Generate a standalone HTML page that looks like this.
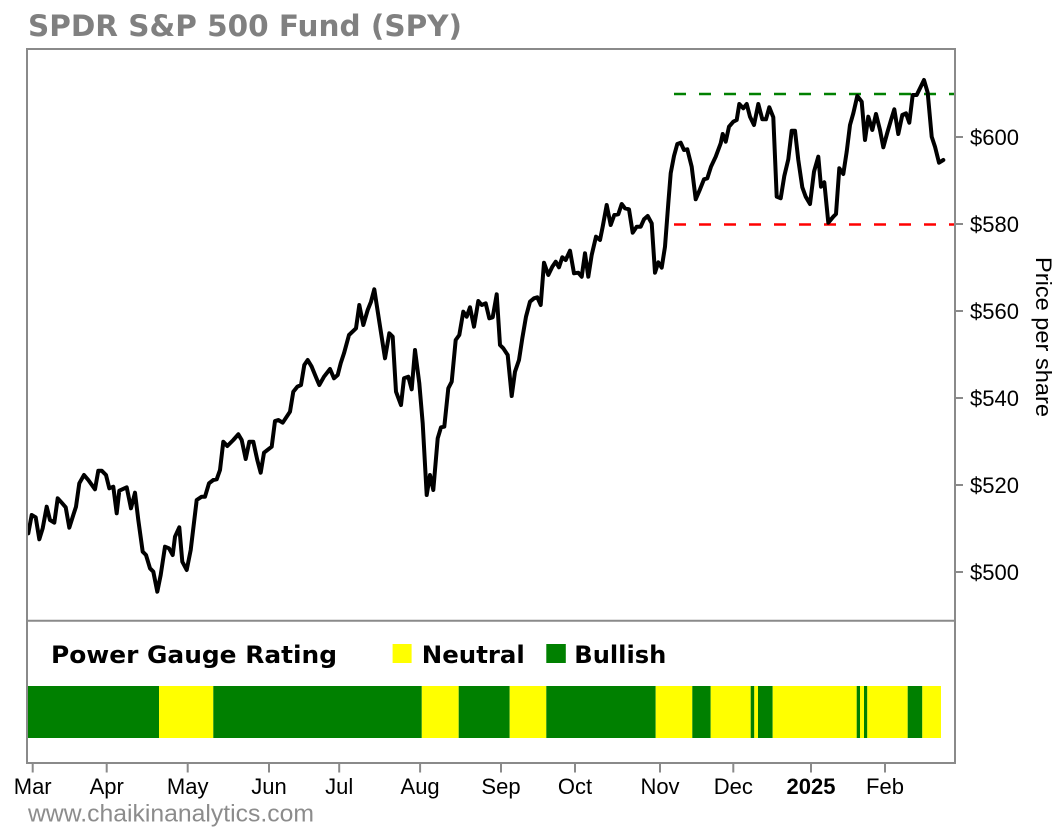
<!DOCTYPE html>
<html>
<head>
<meta charset="utf-8">
<style>
  html, body { margin:0; padding:0; background:#ffffff; }
  body { width:1064px; height:833px; overflow:hidden; }
  svg { display:block; }
  .ax { font-family:"Liberation Sans", Arial, sans-serif; font-size:22px; fill:#000; }
  .bold { font-family:"DejaVu Sans", "Liberation Sans", sans-serif; font-weight:bold; }
</style>
</head>
<body>
<svg width="1064" height="833" viewBox="0 0 1064 833" xmlns="http://www.w3.org/2000/svg">
  <rect x="0" y="0" width="1064" height="833" fill="#ffffff"/>

  <!-- Title -->
  <text x="28" y="36" class="bold" font-size="29" fill="#808080" textLength="434" lengthAdjust="spacingAndGlyphs">SPDR S&amp;P 500 Fund (SPY)</text>

  <!-- Dashed reference lines -->
  <line x1="674" y1="94" x2="955" y2="94" stroke="#008000" stroke-width="2.5" stroke-dasharray="12,13"/>
  <line x1="674" y1="224.5" x2="955" y2="224.5" stroke="#ff0000" stroke-width="2.5" stroke-dasharray="12,13"/>

  <!-- Price line -->
  <polyline fill="none" stroke="#000" stroke-width="4" stroke-linejoin="round" stroke-linecap="round" points="
28.3,533.3 31.7,515 35.7,517.3 39.3,539.3 42.7,528.3 46.7,506.7 50,520 54.3,522.7 57.7,498.3 61.7,502.7 65.7,507.3 69.3,527.7 73.3,515 76,506.7 79.3,483.3 84,475 88.3,480 95,489.3 98.3,470.7 101.7,470.7 106,475 109.3,488.3 113.3,486.7 116.7,513.3 119.3,490.7 126.7,487.3 131,508.3 135,492.7 138.3,520 142.7,551.7 146,555 150,568.3 153.3,571.7 157.3,591.7 160.7,575 165,546.7 169,548.3 172.7,555 175,536.7 179.3,527.3 182.3,561.7 186.7,570 190.7,550 196.7,500 201.7,496.7 205,496.7 209,483.3 213.3,480 216.7,479.3 220,470
223.3,441.7 227.3,446 233.3,440 238.3,434.3 241.7,440 245.7,459 249.3,441.7 253.3,441.7 257.3,460 260.7,472.7 264,452.7 268.3,449.3 271.7,446.7 275,421 278.3,420 282.7,422.7 286.7,416.7 290,411.7 293.3,391.7 297.3,386.7 301,385 304.3,365 307.7,360 311.7,366.7 316,377.3 319.3,385 324,376.7 330,369 334,378.3 337.7,375 340.7,363.3 344,353.3 349,335 356,328.3 359.3,305 363.3,325 367.7,310 371,301.7 374.3,289.3 379.3,321.7 385,358.3 389.3,333.3 392.7,336.7 396,391.7
401,405 404,378.3 408.3,376.7 411.7,389.3 415,350 419.3,383.3 422.7,423.3 426.7,495 430,475 433.3,490 437.7,438.3 441,427.3 444.3,426.7 448.3,388.3 451.7,381.7 455.7,340 459.3,335 463.3,311.7 466.7,316.7 470,307.3 474,326.7 478.3,301 481.7,305 485.7,303.3 489.3,318.3 492.7,317.3 496.7,294.3 500,345 503.3,348.3 507.7,355 511.7,396 515,371.7 519,360 522.3,338.3 526,316.7 530,301.7 534,298.3 537.3,297.3 540.7,305 544,262.7 548.3,275 552.3,266.7 555.7,261.7 559,267.3 562.3,257.3 565.7,260 570,250.7
574,273.3 578.3,272.7 581.7,276.7 585,253.3 588.3,276.7 591.7,255 596,236.7 600,240 602.7,226.7 606.7,205 610.7,225 614.3,215 618.3,214.3 621.7,204 625,208.3 629,209.3 632.7,232.7 636.7,226.7 640.7,226.7 644,219.3 647.7,216 651.7,223.3 655,272.7 658.3,262.3 661.7,267.7 665,246.7 668.3,203.3 670.7,173.3 674,156 677.3,144 680.7,142.7 684,150 687.3,149.3 691.7,166.7 695.7,199.3 700,189.3 704,179.3 707.3,178.3 711,166.7 715.7,156.7 720.7,143.3 722.7,134 725.7,141.7 729,126.7 733.3,121.7 736.7,120 739.3,104 743.3,108.3 746.7,104
750,116.7 754,125 758.3,104 762.3,119.3 766,119.3 769.3,107.3 773.3,117.3 776.7,196.7 780.7,198.3 784.3,176 788.3,159.3 791.7,130.7 795,130.7 798.3,160 802.3,187.3 805.7,196.7 810,204 814,171.7 818.3,156.7 821,186.7 824.3,182.3 828.3,222.7 833.3,216.7 836,214 839.3,168.3 843.3,174 846.7,151.7 850,125 853.3,113.3 857.3,96 861.7,101.7 865,140 868.3,116.7 872.3,130 876,114 880,130 883.3,147.3 887.3,132.7 891,120 894.3,109.3 898.3,134 902.3,115 906,113.3 909.3,122.7 912.7,95 916.7,95 920,88.3 924,80 927.7,92.7 931.7,136.7 935,146.7 939,162.7 943.3,160"/>

  <!-- Power gauge bar -->
  <g>
    <rect x="28" y="686" width="131" height="52" fill="#008000"/>
    <rect x="159" y="686" width="54.3" height="52" fill="#ffff00"/>
    <rect x="213.3" y="686" width="208.5" height="52" fill="#008000"/>
    <rect x="421.8" y="686" width="36.9" height="52" fill="#ffff00"/>
    <rect x="458.7" y="686" width="51" height="52" fill="#008000"/>
    <rect x="509.7" y="686" width="36.6" height="52" fill="#ffff00"/>
    <rect x="546.3" y="686" width="109.4" height="52" fill="#008000"/>
    <rect x="655.7" y="686" width="36.6" height="52" fill="#ffff00"/>
    <rect x="692.3" y="686" width="18.4" height="52" fill="#008000"/>
    <rect x="710.7" y="686" width="40" height="52" fill="#ffff00"/>
    <rect x="750.7" y="686" width="3.6" height="52" fill="#008000"/>
    <rect x="754.3" y="686" width="3.7" height="52" fill="#ffff00"/>
    <rect x="758" y="686" width="14.7" height="52" fill="#008000"/>
    <rect x="772.7" y="686" width="84" height="52" fill="#ffff00"/>
    <rect x="856.7" y="686" width="3.3" height="52" fill="#008000"/>
    <rect x="860" y="686" width="4" height="52" fill="#ffff00"/>
    <rect x="864" y="686" width="3.3" height="52" fill="#008000"/>
    <rect x="867.3" y="686" width="40.4" height="52" fill="#ffff00"/>
    <rect x="907.7" y="686" width="14.6" height="52" fill="#008000"/>
    <rect x="922.3" y="686" width="18.7" height="52" fill="#ffff00"/>
  </g>

  <!-- Legend -->
  <text x="51" y="663" class="bold" font-size="24" fill="#000" textLength="286" lengthAdjust="spacingAndGlyphs">Power Gauge Rating</text>
  <rect x="392.6" y="644" width="19" height="19" fill="#ffff00"/>
  <text x="421.8" y="663" class="bold" font-size="24" fill="#000" textLength="103" lengthAdjust="spacingAndGlyphs">Neutral</text>
  <rect x="546.3" y="644" width="19.5" height="19" fill="#008000"/>
  <text x="574.3" y="663" class="bold" font-size="24" fill="#000" textLength="92" lengthAdjust="spacingAndGlyphs">Bullish</text>

  <!-- Frame -->
  <rect x="27" y="49" width="928" height="714" fill="none" stroke="#8a8a8a" stroke-width="2"/>
  <line x1="27" y1="620.7" x2="955" y2="620.7" stroke="#8a8a8a" stroke-width="2"/>

  <!-- Right axis ticks & labels -->
  <g stroke="#8a8a8a" stroke-width="2">
    <line x1="955" y1="137" x2="963" y2="137"/>
    <line x1="955" y1="224" x2="963" y2="224"/>
    <line x1="955" y1="311" x2="963" y2="311"/>
    <line x1="955" y1="398" x2="963" y2="398"/>
    <line x1="955" y1="485" x2="963" y2="485"/>
    <line x1="955" y1="572" x2="963" y2="572"/>
  </g>
  <g class="ax">
    <text x="970" y="145">$600</text>
    <text x="970" y="232">$580</text>
    <text x="970" y="319">$560</text>
    <text x="970" y="406">$540</text>
    <text x="970" y="493">$520</text>
    <text x="970" y="580">$500</text>
  </g>
  <text class="ax" font-size="23" transform="translate(1036,337) rotate(90)" text-anchor="middle" textLength="160" lengthAdjust="spacingAndGlyphs">Price per share</text>

  <!-- Bottom axis ticks & labels -->
  <g stroke="#8a8a8a" stroke-width="2">
    <line x1="32.7" y1="763" x2="32.7" y2="772.5"/>
    <line x1="106.7" y1="763" x2="106.7" y2="772.5"/>
    <line x1="187.7" y1="763" x2="187.7" y2="772.5"/>
    <line x1="269" y1="763" x2="269" y2="772.5"/>
    <line x1="339.2" y1="763" x2="339.2" y2="772.5"/>
    <line x1="420.1" y1="763" x2="420.1" y2="772.5"/>
    <line x1="501" y1="763" x2="501" y2="772.5"/>
    <line x1="575" y1="763" x2="575" y2="772.5"/>
    <line x1="660" y1="763" x2="660" y2="772.5"/>
    <line x1="733.3" y1="763" x2="733.3" y2="772.5"/>
    <line x1="811" y1="763" x2="811" y2="772.5"/>
    <line x1="885" y1="763" x2="885" y2="772.5"/>
  </g>
  <g class="ax" text-anchor="middle">
    <text x="32.7" y="794">Mar</text>
    <text x="106.7" y="794">Apr</text>
    <text x="187.7" y="794">May</text>
    <text x="269" y="794">Jun</text>
    <text x="339.2" y="794">Jul</text>
    <text x="420.1" y="794">Aug</text>
    <text x="501" y="794">Sep</text>
    <text x="575" y="794">Oct</text>
    <text x="660" y="794">Nov</text>
    <text x="733.3" y="794">Dec</text>
    <text x="811" y="794" font-weight="bold">2025</text>
    <text x="885" y="794">Feb</text>
  </g>

  <!-- Watermark -->
  <text x="28" y="821.7" font-family="'Liberation Sans', Arial, sans-serif" font-size="24" fill="#8c8c8c" textLength="286" lengthAdjust="spacingAndGlyphs">www.chaikinanalytics.com</text>
</svg>
</body>
</html>
